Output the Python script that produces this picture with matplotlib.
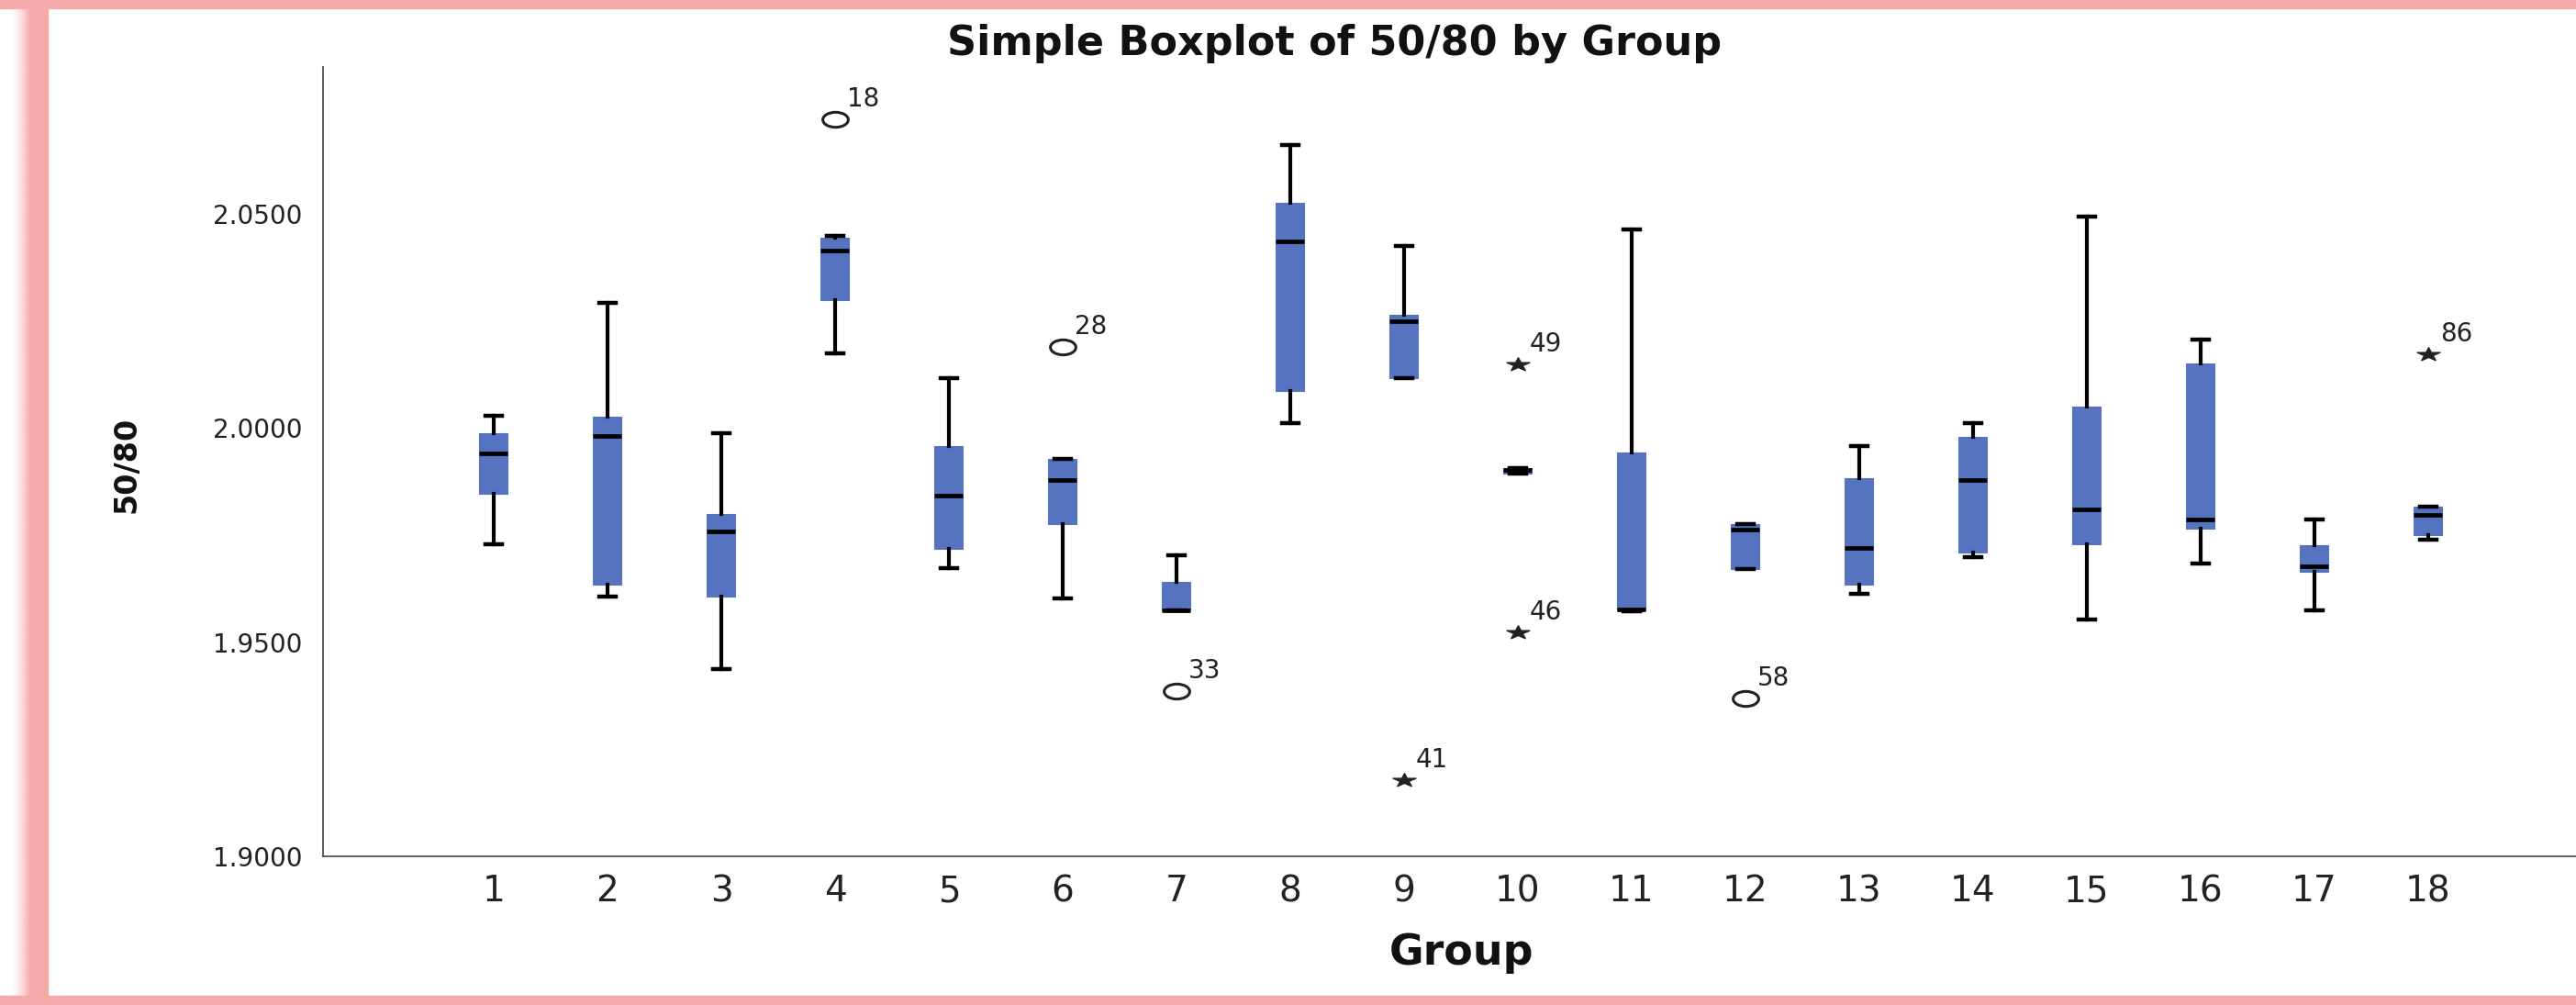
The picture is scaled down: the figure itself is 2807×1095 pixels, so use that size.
import numpy as np
import matplotlib
matplotlib.use("Agg")
import matplotlib.pyplot as plt
from matplotlib.patches import Rectangle
from matplotlib.path import Path
from matplotlib.markers import MarkerStyle
from matplotlib.transforms import Affine2D

plt.rcParams['font.family'] = ['DejaVu Sans']

# boxplot summaries, one entry per group
groups = list(range(1, 19))
whislo = [1.9729, 1.9606, 1.9437, 2.0174, 1.9673, 1.9601, 1.9574, 2.0011, 2.0116,
          1.9893, 1.9572, 1.9670, 1.9612, 1.9698, 1.9553, 1.9683, 1.9574, 1.9739]
q1 = [1.9847, 1.9634, 1.9606, 2.0300, 1.9718, 1.9776, 1.9574, 2.0086, 2.0116,
      1.9893, 1.9574, 1.9670, 1.9635, 1.9709, 1.9728, 1.9764, 1.9664, 1.9749]
med = [1.9940, 1.9982, 1.9759, 2.0414, 1.9843, 1.9879, 1.9574, 2.0437, 2.0250,
       1.9903, 1.9577, 1.9763, 1.9719, 1.9878, 1.9810, 1.9787, 1.9677, 1.9798]
q3 = [1.9989, 2.0027, 1.9800, 2.0445, 1.9957, 1.9927, 1.9640, 2.0527, 2.0264,
      1.9906, 1.9942, 1.9776, 1.9882, 1.9979, 2.0050, 2.0152, 1.9727, 1.9816]
whishi = [2.0028, 2.0293, 1.9989, 2.0449, 2.0117, 1.9927, 1.9703, 2.0662, 2.0425,
          1.9906, 2.0463, 1.9776, 1.9957, 2.0012, 2.0494, 2.0207, 1.9787, 1.9816]

# outliers (circle) and extremes (star) with their case numbers
out_group = [4, 6, 7, 12]
out_value = [2.0721, 2.0190, 1.9386, 1.9369]
out_case = ['18', '28', '33', '58']
ext_group = [9, 10, 10, 18]
ext_value = [1.9177, 2.0149, 1.9523, 2.0173]
ext_case = ['41', '49', '46', '86']

yticks = [1.90, 1.95, 2.00, 2.05]

W, H = 2807, 1095
pink = '#F5AAAA'
blue = '#5573BF'

fig = plt.figure(figsize=(W / 100, H / 100), dpi=100)

# pink frame round the picture
fig.patches.append(Rectangle((0, 1 - 9 / H), 1, 9 / H, transform=fig.transFigure,
                             color=pink, zorder=0))
fig.patches.append(Rectangle((0, 0), 1, 10 / H, transform=fig.transFigure,
                             color=pink, zorder=0))
fig.patches.append(Rectangle((33 / W, 0), 19 / W, 1, transform=fig.transFigure,
                             color=pink, zorder=0))
gax = fig.add_axes([12 / W, 0, 21 / W, 1])
grad = np.ones((2, 64, 4))
grad[..., :3] = matplotlib.colors.to_rgb(pink)
grad[..., 3] = np.linspace(0, 1, 64) ** 1.5
gax.imshow(grad, aspect='auto', extent=(0, 1, 0, 1))
gax.axis('off')

ax = fig.add_axes([352 / W, 1 - 932.7 / H, 1 - 352 / W, (932.7 - 73.3) / H])

stats = []
for i in range(len(groups)):
    stats.append(dict(med=med[i], q1=q1[i], q3=q3[i], whislo=whislo[i],
                      whishi=whishi[i], fliers=[]))

ax.bxp(stats, positions=groups, widths=0.25, patch_artist=True,
       showfliers=False,
       boxprops=dict(facecolor=blue, edgecolor=blue, linewidth=0.8),
       medianprops=dict(color='black', linewidth=3.4, solid_capstyle='butt'),
       whiskerprops=dict(color='black', linewidth=3.0),
       capprops=dict(color='black', linewidth=3.2),
       capwidths=0.15)

ell = Path.unit_circle().transformed(Affine2D().scale(1.7, 1.0))
ms = MarkerStyle('*')
star = ms.get_path().transformed(ms.get_transform()).transformed(Affine2D().scale(1.7, 1.0))

ax.plot(out_group, out_value, linestyle='none', marker=ell, markersize=20,
        markerfacecolor='none', markeredgecolor='#222222', markeredgewidth=2.2)
ax.plot(ext_group, ext_value, linestyle='none', marker=star, markersize=18,
        color='#222222')
for g, v, c in zip(out_group + ext_group, out_value + ext_value, out_case + ext_case):
    ax.annotate(c, (g, v), xytext=(13, 14), textcoords='offset pixels',
                ha='left', va='baseline', fontsize=20, color='#222222')

ax.set_xlim(-0.5, 19.3)
ax.set_ylim(1.9, 2.0843)
ax.set_xticks(groups)
ax.set_xticklabels([str(g) for g in groups])
ax.set_yticks(yticks)
ax.set_yticklabels(['%.4f' % t for t in yticks])
ax.tick_params(axis='both', length=0, colors='#222222')
ax.tick_params(axis='y', labelsize=20, pad=16)
ax.tick_params(axis='x', labelsize=28, pad=14)
for s in ['top', 'right']:
    ax.spines[s].set_visible(False)
for s in ['left', 'bottom']:
    ax.spines[s].set_color('#444444')
    ax.spines[s].set_linewidth(1.2)

fig.text(1454 / W, 1 - 60 / H, 'Simple Boxplot of 50/80 by Group', ha='center',
         va='baseline', fontsize=32, fontweight='bold', color='#111111')
fig.text(1593 / W, 1 - 1051 / H, 'Group', ha='center', va='baseline',
         fontsize=33, fontweight='bold', color='#111111')
fig.text(138 / W, 1 - 506 / H, '50/80', ha='center', va='center', rotation=90,
         fontsize=24, fontweight='bold', color='#111111')

fig.savefig('out.png', dpi=100)
